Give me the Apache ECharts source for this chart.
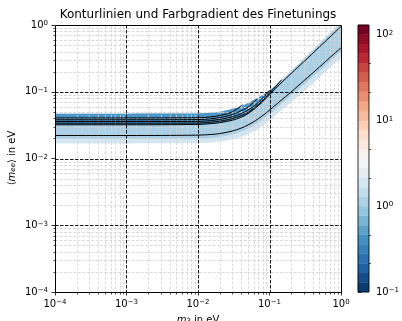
<!DOCTYPE html>
<html>
<head>
<meta charset="utf-8">
<title>Finetuning</title>
<script src="https://cdn.jsdelivr.net/npm/echarts@6/dist/echarts.min.js"></script>
<style>
  html, body { margin: 0; padding: 0; background: #fff; }
  #chart { width: 402px; height: 321px; }
</style>
</head>
<body>
<div id="chart"></div>
<script>
// lightest neutrino mass m3 in eV, shared grid for the band edges
const m3 = [1e-4, 1e-3, 1e-2, 0.015, 0.02, 0.03, 0.04, 0.05, 0.07, 0.1, 0.14, 0.2, 0.3, 0.5, 0.7, 1];

// <m_ee> in eV along m3
const bandTop     = [0.047, 0.047, 0.0472, 0.0483, 0.050, 0.055, 0.061, 0.068, 0.082, 0.105, 0.143, 0.205, 0.31, 0.53, 0.75, 1.1];
const upperLine   = [0.032, 0.032, 0.0324, 0.0333, 0.0344, 0.0374, 0.0415, 0.047, 0.062, 0.09, 0.13, 0.187, 0.28, 0.47, 0.66, 0.95];
const lowerLine   = [0.0221, 0.0221, 0.0224, 0.0229, 0.0236, 0.0258, 0.0285, 0.0318, 0.0395, 0.053, 0.072, 0.099, 0.145, 0.235, 0.325, 0.455];
const mainBottom  = [0.0197, 0.0197, 0.0199, 0.0203, 0.021, 0.0229, 0.0252, 0.028, 0.0347, 0.0465, 0.063, 0.087, 0.127, 0.205, 0.285, 0.40];
const outerBottom = [0.0168, 0.0168, 0.017, 0.0173, 0.0178, 0.0192, 0.021, 0.023, 0.028, 0.037, 0.05, 0.069, 0.101, 0.164, 0.228, 0.32];

// dark strip under the upper edge (first 11 grid points of m3)
const darkBottom  = [0.032, 0.032, 0.0324, 0.0333, 0.0344, 0.0374, 0.0415, 0.047, 0.062, 0.09, 0.138];

// contour lines of the bundle that run into the upper edge
const stub1M3 = [1e-4, 1e-3, 1e-2, 0.015, 0.02, 0.03, 0.042];
const stub1   = [0.0405, 0.0405, 0.0408, 0.042, 0.044, 0.05, 0.064];
const stub2M3 = [1e-4, 1e-3, 1e-2, 0.015, 0.02, 0.03, 0.04, 0.05, 0.066];
const stub2   = [0.038, 0.038, 0.0383, 0.0393, 0.041, 0.0455, 0.052, 0.059, 0.077];
const stub3M3 = [1e-4, 1e-3, 1e-2, 0.015, 0.02, 0.03, 0.04, 0.05, 0.07, 0.1];
const stub3   = [0.0358, 0.0358, 0.036, 0.037, 0.0385, 0.042, 0.047, 0.053, 0.069, 0.105];
const stub4M3 = [1e-4, 1e-3, 1e-2, 0.015, 0.02, 0.03, 0.04, 0.05, 0.07, 0.1, 0.148];
const stub4   = [0.0338, 0.0338, 0.034, 0.035, 0.0362, 0.0395, 0.0438, 0.049, 0.0645, 0.095, 0.152];

// colorbar levels (finetuning) and ticks
const cbLevels = [0.1, 0.1292, 0.1668, 0.2154, 0.2783, 0.3594, 0.4642, 0.5995, 0.7743,
  1, 1.292, 1.668, 2.154, 2.783, 3.594, 4.642, 5.995, 7.743,
  10, 12.92, 16.68, 21.54, 27.83, 35.94, 46.42, 59.95, 77.43, 100, 129.2];
const cbMajor = [0.1, 1, 10, 100];
const cbMinor = [0.2154, 0.4642, 2.154, 4.642, 21.54, 46.42];

// RdBu_r anchors
const rdbu = ['#053061', '#2166ac', '#4393c3', '#92c5de', '#d1e5f0', '#f7f7f7',
  '#fddbc7', '#f4a582', '#d6604d', '#b2182b', '#67001f'];

function cmap(t) {
  const p = Math.min(Math.max(t, 0), 1) * (rdbu.length - 1);
  const i = Math.min(Math.floor(p), rdbu.length - 2);
  const f = p - i;
  const a = rdbu[i], b = rdbu[i + 1];
  const ch = k => {
    const va = parseInt(a.substr(1 + 2 * k, 2), 16);
    const vb = parseInt(b.substr(1 + 2 * k, 2), 16);
    return Math.round(va + (vb - va) * f);
  };
  return 'rgb(' + ch(0) + ',' + ch(1) + ',' + ch(2) + ')';
}

const zip = (xs, ys) => xs.map((x, i) => [x, ys[i]]);

// minor decade positions 2..9 for the log axes
const minorVals = [];
for (let d = -4; d < 0; d++) {
  for (let k = 2; k <= 9; k++) minorVals.push(k * Math.pow(10, d));
}
const majorVals = [1e-3, 1e-2, 1e-1];

const FONT = 'DejaVu Sans';
const MINUS = '\u2212';

function powLabel(v) {
  const e = Math.round(Math.log10(v));
  return '10{sup|' + (e < 0 ? MINUS + (-e) : e) + '}';
}

const supRich = { sup: { fontSize: 7, lineHeight: 7, verticalAlign: 'top', fontFamily: FONT, color: '#000' } };

const MAIN = '#abd0e6';
const LIGHT = '#d4e6f1';
const DARK = '#4b96c8';

function area(data, color) {
  return {
    type: 'line', xAxisIndex: 0, yAxisIndex: 0, data: data,
    smooth: 0.4, symbol: 'none', silent: true, z: 1,
    lineStyle: { width: 0 },
    areaStyle: { color: color, opacity: 1, origin: 1e-4 }
  };
}

function contour(data) {
  return {
    type: 'line', xAxisIndex: 0, yAxisIndex: 0, data: data,
    smooth: 0.4, symbol: 'none', silent: true, z: 3,
    lineStyle: { color: '#000', width: 1 }
  };
}

const crisp = v => Math.round(v) + 0.5;

function gridRender(params, api) {
  const kids = [];
  const line = (p0, p1, style) => kids.push({
    type: 'line',
    shape: { x1: p0[0], y1: p0[1], x2: p1[0], y2: p1[1] },
    style: style
  });
  const minorStyle = { stroke: '#d2d2d2', lineWidth: 0.8, lineDash: [3, 1.5] };
  const majorStyle = { stroke: '#000', lineWidth: 0.9, lineDash: [3.5, 1.5] };
  const lb = api.coord([1e-4, 1e-4]);
  const rt = api.coord([1, 1]);
  minorVals.forEach(v => {
    const x = crisp(api.coord([v, 1e-4])[0]);
    const y = crisp(api.coord([1e-4, v])[1]);
    line([x, rt[1]], [x, lb[1]], minorStyle);
    line([lb[0], y], [rt[0], y], minorStyle);
  });
  majorVals.forEach(v => {
    const x = crisp(api.coord([v, 1e-4])[0]);
    const y = crisp(api.coord([1e-4, v])[1]);
    line([x, rt[1]], [x, lb[1]], majorStyle);
    line([lb[0], y], [rt[0], y], majorStyle);
  });
  return { type: 'group', children: kids };
}

function frameRender(params, api) {
  const kids = [];
  const lb = api.coord([1e-4, 1e-4]);
  const rt = api.coord([1, 1]);
  const x0 = crisp(lb[0]), y0 = crisp(lb[1]), x1 = crisp(rt[0]), y1 = crisp(rt[1]);
  kids.push({ type: 'rect', shape: { x: x0, y: y1, width: x1 - x0, height: y0 - y1 },
    style: { fill: null, stroke: '#000', lineWidth: 1 } });
  minorVals.forEach(v => {
    const x = crisp(api.coord([v, 1e-4])[0]);
    const y = crisp(api.coord([1e-4, v])[1]);
    kids.push({ type: 'line', shape: { x1: x, y1: y0, x2: x, y2: y0 + 2 }, style: { stroke: '#000', lineWidth: 0.7 } });
    kids.push({ type: 'line', shape: { x1: x0 - 2, y1: y, x2: x0, y2: y }, style: { stroke: '#000', lineWidth: 0.7 } });
  });
  return { type: 'group', children: kids };
}

function cbarRender(params, api) {
  const i = params.dataIndex;
  const p0 = api.coord([0, api.value(1)]);
  const p1 = api.coord([1, api.value(2)]);
  const col = cmap((i + 0.5) / (cbLevels.length - 1));
  return {
    type: 'rect',
    shape: { x: p0[0], y: p1[1], width: p1[0] - p0[0], height: p0[1] - p1[1] },
    style: { fill: col, stroke: col, lineWidth: 0.4 }
  };
}

function cbarFrameRender(params, api) {
  const kids = [];
  const lb = api.coord([0, 0.1]);
  const rt = api.coord([1, 129.2]);
  kids.push({ type: 'rect', shape: { x: lb[0], y: rt[1], width: rt[0] - lb[0], height: lb[1] - rt[1] },
    style: { fill: null, stroke: '#000', lineWidth: 0.8 } });
  cbMinor.forEach(v => {
    const y = crisp(api.coord([1, v])[1]);
    kids.push({ type: 'line', shape: { x1: rt[0], y1: y, x2: rt[0] + 2, y2: y }, style: { stroke: '#000', lineWidth: 0.7 } });
  });
  return { type: 'group', children: kids };
}

const chart = echarts.init(document.getElementById('chart'));

const option = {
  animation: false,
  textStyle: { fontFamily: FONT },
  grid: [
    { left: 55, top: 25, width: 286, height: 267 },
    { left: 358, top: 25, width: 14, height: 267 }
  ],
  xAxis: [
    {
      type: 'log', gridIndex: 0, min: 1e-4, max: 1, logBase: 10,
      axisLine: { show: false },
      axisTick: { length: 3.5, lineStyle: { color: '#000', width: 0.8 } },
      axisLabel: { fontSize: 10, color: '#000', margin: 7, fontFamily: FONT, formatter: powLabel, rich: supRich },
      splitLine: { show: false }
    },
    { type: 'value', gridIndex: 1, min: 0, max: 1, show: false }
  ],
  yAxis: [
    {
      type: 'log', gridIndex: 0, min: 1e-4, max: 1, logBase: 10,
      axisLine: { show: false },
      axisTick: { length: 3.5, lineStyle: { color: '#000', width: 0.8 } },
      axisLabel: { fontSize: 10, color: '#000', margin: 7, fontFamily: FONT, formatter: powLabel, rich: supRich },
      splitLine: { show: false }
    },
    {
      type: 'log', gridIndex: 1, min: 0.1, max: 129.2, logBase: 10, position: 'right',
      axisLine: { show: false },
      axisTick: { length: 3.5, lineStyle: { color: '#000', width: 0.8 }, customValues: cbMajor },
      axisLabel: { fontSize: 10, color: '#000', margin: 7, fontFamily: FONT, formatter: powLabel,
        rich: supRich, customValues: cbMajor },
      splitLine: { show: false }
    }
  ],
  graphic: [
    {
      type: 'text', x: 198, y: 15, silent: true,
      style: { text: 'Konturlinien und Farbgradient des Finetunings', fill: '#000',
        font: '12px "DejaVu Sans"', textAlign: 'center', textVerticalAlign: 'middle', align: 'center', verticalAlign: 'middle' }
    },
    {
      type: 'text', x: 12, y: 158, rotation: Math.PI / 2, silent: true,
      style: {
        text: '\u27e8{i|m}{sub|ee}\u27e9 in eV', fill: '#000', font: '10px "DejaVu Sans"',
        textAlign: 'center', textVerticalAlign: 'middle', align: 'center', verticalAlign: 'middle',
        rich: {
          i: { fontSize: 10, fontStyle: 'italic', fontFamily: FONT },
          sub: { fontSize: 7, fontStyle: 'italic', fontFamily: FONT, verticalAlign: 'bottom', lineHeight: 7 }
        }
      }
    },
    {
      type: 'text', x: 198, y: 315, silent: true,
      style: {
        text: '{i|m}{sub|3} in eV', fill: '#000', font: '10px "DejaVu Sans"',
        textAlign: 'center', textVerticalAlign: 'top', align: 'center', verticalAlign: 'top',
        rich: {
          i: { fontSize: 10, fontStyle: 'italic', fontFamily: FONT },
          sub: { fontSize: 7, fontFamily: FONT, verticalAlign: 'bottom', lineHeight: 7 }
        }
      }
    }
  ],
  series: [
    area(zip(m3, bandTop), MAIN),
    area(zip(m3.slice(0, darkBottom.length), bandTop.slice(0, darkBottom.length)), DARK),
    area(zip(m3.slice(0, darkBottom.length), darkBottom), MAIN),
    area(zip(m3, mainBottom), LIGHT),
    area(zip(m3, outerBottom), '#ffffff'),
    {
      type: 'custom', xAxisIndex: 0, yAxisIndex: 0, z: 2, silent: true,
      data: [[0.01, 0.01]], renderItem: gridRender
    },
    contour(zip(m3, lowerLine)),
    contour(zip(m3, upperLine)),
    contour(zip(stub1M3, stub1)),
    contour(zip(stub2M3, stub2)),
    contour(zip(stub3M3, stub3)),
    contour(zip(stub4M3, stub4)),
    {
      type: 'custom', xAxisIndex: 0, yAxisIndex: 0, z: 4, silent: true,
      data: [[0.01, 0.01]], renderItem: frameRender
    },
    {
      type: 'custom', xAxisIndex: 1, yAxisIndex: 1, z: 1, silent: true,
      encode: { x: 0, y: [1, 2] },
      data: cbLevels.slice(0, -1).map((v, i) => [0.5, v, cbLevels[i + 1]]),
      renderItem: cbarRender
    },
    {
      type: 'custom', xAxisIndex: 1, yAxisIndex: 1, z: 4, silent: true,
      data: [[0.5, 1]], renderItem: cbarFrameRender
    }
  ]
};

chart.setOption(option);
</script>
</body>
</html>
